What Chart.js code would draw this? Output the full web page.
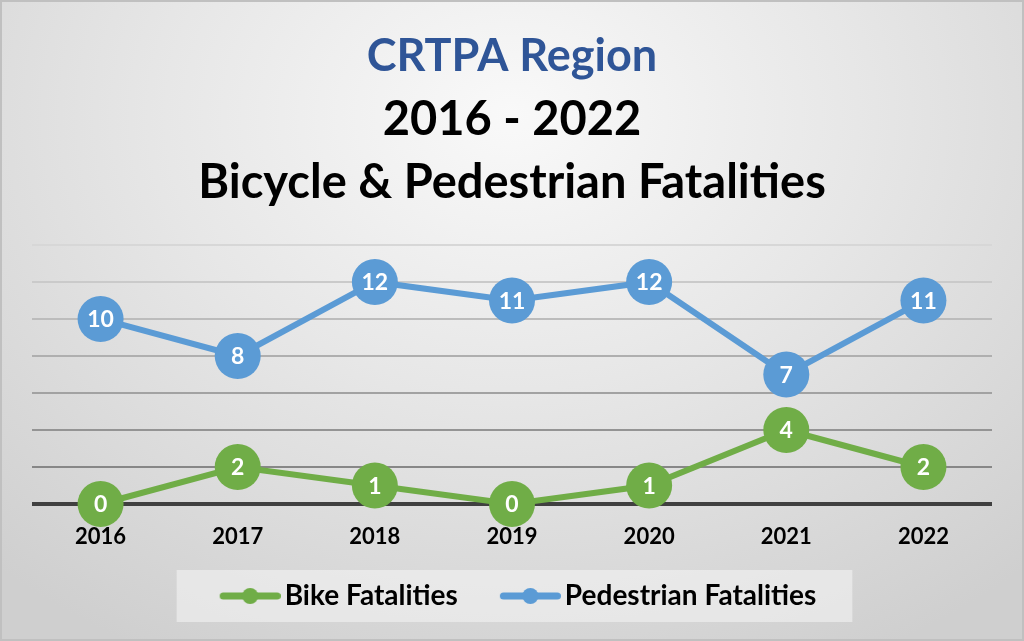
<!DOCTYPE html>
<html lang="en">
<head>
    <meta charset="UTF-8">
    <title>CRTPA Region Fatalities</title>
    <script src="https://cdn.jsdelivr.net/npm/chart.js@4"></script>
    <style>
        html, body { margin: 0; padding: 0; }
        body {
            width: 1024px;
            height: 641px;
            overflow: hidden;
            background: radial-gradient(ellipse 75% 95% at 50% 18%, #f9f9f9 0%, #e7e7e7 45%, #cfcfcf 100%);
            box-shadow: inset 0 0 0 2px #c0c0c0;
        }
        .chart-box { position: relative; width: 1024px; height: 641px; }
    </style>
</head>
<body>
    <div class="chart-box">
        <canvas id="fatalChart"></canvas>
    </div>

    <script>
        // dados
        const anos = ['2016', '2017', '2018', '2019', '2020', '2021', '2022'];
        const bikeFatalities = [0, 2, 1, 0, 1, 4, 2];
        const pedFatalities = [10, 8, 12, 11, 12, 7, 11];
        const yMin = 0;
        const yMax = 14;
        const yStep = 2;

        const verde = '#70AD47';
        const azul = '#5B9BD5';
        const fonte = 'Lato, "Open Sans", sans-serif';

        // simbolo da legenda: linha com bolinha no meio (desenhado encostado à direita)
        const simbolo = (cor) => {
            const c = document.createElement('canvas');
            c.width = 83; c.height = 18;
            const g = c.getContext('2d');
            g.strokeStyle = cor;
            g.lineWidth = 7;
            g.lineCap = 'round';
            g.beginPath(); g.moveTo(25.5, 9); g.lineTo(79.5, 9); g.stroke();
            g.fillStyle = cor;
            g.beginPath(); g.arc(52.5, 9, 8, 0, Math.PI * 2); g.fill();
            return c;
        };

        const etiquetas = {
            id: 'etiquetas',
            afterDatasetsDraw(chart) {
                const ctx = chart.ctx;
                ctx.save();
                ctx.font = 'bold 23px ' + fonte;
                ctx.fillStyle = '#ffffff';
                ctx.textAlign = 'center';
                ctx.textBaseline = 'middle';
                chart.data.datasets.forEach((ds, i) => {
                    chart.getDatasetMeta(i).data.forEach((pt, j) => {
                        ctx.fillText(ds.data[j], pt.x, pt.y + 1);
                    });
                });
                ctx.restore();
            }
        };

        const caixaLegenda = {
            id: 'caixaLegenda',
            beforeDraw(chart) {
                const hb = chart.legend && chart.legend.legendHitBoxes;
                if (!hb || !hb.length) return;
                const ult = hb[hb.length - 1];
                const esq = hb[0].left - 31;
                const dir = ult.left + ult.width + 36;
                const topo = hb[0].top - 12;
                const base = hb[0].top + hb[0].height + 12;
                const ctx = chart.ctx;
                ctx.save();
                ctx.fillStyle = 'rgba(245, 245, 245, 0.55)';
                ctx.fillRect(esq, topo, dir - esq, base - topo);
                ctx.restore();
            }
        };

        const corGrade = (ctx) => {
            const v = ctx.tick.value;
            if (v === 0) return '#404040';
            const t = (v - 2) / 12;
            const n = Math.round(135 + t * 80);
            return `rgb(${n}, ${n}, ${n})`;
        };

        new Chart(document.getElementById('fatalChart'), {
            type: 'line',
            data: {
                labels: anos,
                datasets: [
                    {
                        label: 'Bike Fatalities',
                        data: bikeFatalities,
                        borderColor: verde,
                        backgroundColor: verde,
                        borderWidth: 6,
                        pointRadius: 23,
                        pointHoverRadius: 23,
                        pointBorderWidth: 0,
                        clip: false,
                    },
                    {
                        label: 'Pedestrian Fatalities',
                        data: pedFatalities,
                        borderColor: azul,
                        backgroundColor: azul,
                        borderWidth: 6,
                        pointRadius: 23,
                        pointHoverRadius: 23,
                        pointBorderWidth: 0,
                        clip: false,
                    },
                ],
            },
            options: {
                responsive: true,
                maintainAspectRatio: false,
                animation: false,
                layout: { padding: { left: 32, right: 32, top: 0, bottom: 21 } },
                plugins: {
                    title: {
                        display: true,
                        text: 'CRTPA Region',
                        color: '#2F5597',
                        font: { family: fonte, size: 45, weight: 'bold', lineHeight: 1.2 },
                        padding: { top: 29, bottom: 5.5 },
                    },
                    subtitle: {
                        display: true,
                        text: ['2016 - 2022', 'Bicycle & Pedestrian Fatalities'],
                        color: '#000000',
                        font: { family: fonte, size: 47, weight: 'bold', lineHeight: 1.34 },
                        padding: { top: 0, bottom: 30.5 },
                    },
                    legend: {
                        position: 'bottom',
                        labels: {
                            usePointStyle: true,
                            pointStyleWidth: 63,
                            padding: 30,
                            color: '#000000',
                            font: { family: fonte, size: 28, weight: 'bold' },
                            generateLabels(chart) {
                                const itens = Chart.defaults.plugins.legend.labels.generateLabels(chart);
                                itens.forEach((it, i) => {
                                    it.pointStyle = simbolo(i === 0 ? verde : azul);
                                });
                                return itens;
                            },
                        },
                    },
                    tooltip: { enabled: false },
                },
                scales: {
                    x: {
                        offset: true,
                        grid: { display: false, drawTicks: false },
                        border: { display: false },
                        ticks: {
                            color: '#000000',
                            padding: 20,
                            font: { family: fonte, size: 22, weight: 'bold' },
                        },
                        afterFit(scale) { scale.height = 48; },
                    },
                    y: {
                        min: yMin,
                        max: yMax,
                        ticks: { display: false, stepSize: yStep },
                        border: { display: false },
                        grid: {
                            drawTicks: false,
                            color: corGrade,
                            lineWidth: (c) => (c.tick.value === 0 ? 4 : 2),
                        },
                    },
                },
            },
            plugins: [caixaLegenda, etiquetas],
        });
    </script>
</body>
</html>
